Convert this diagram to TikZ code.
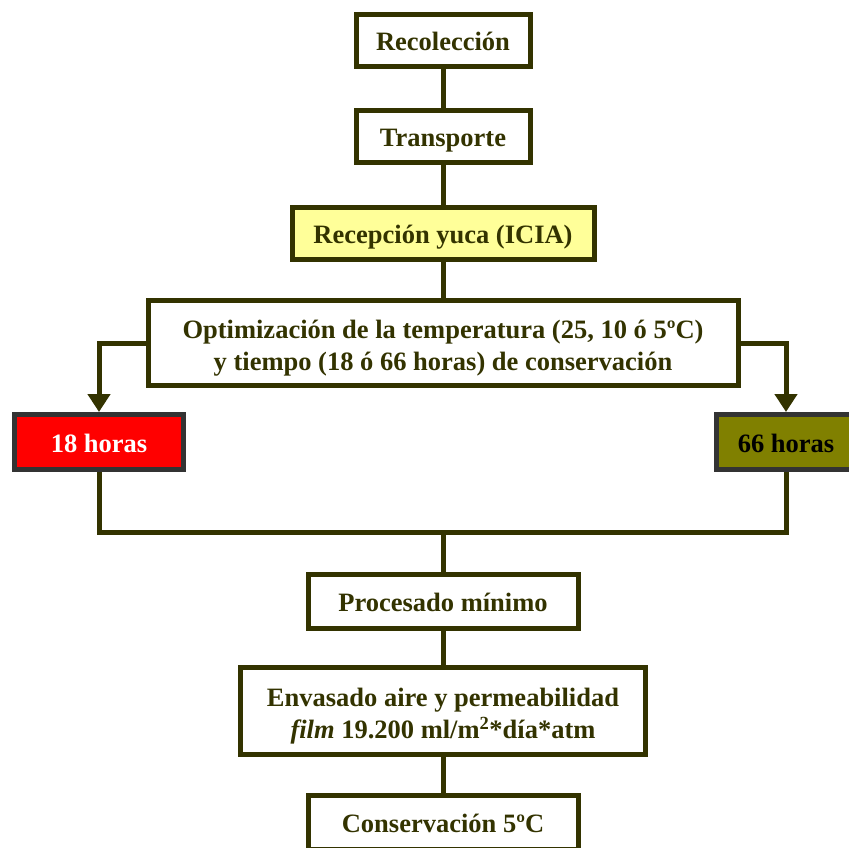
\documentclass[tikz,border=0pt]{standalone}
\usepackage{fontspec}
\setmainfont{Liberation Serif}
\usetikzlibrary{arrows.meta}
\definecolor{olivedark}{HTML}{333300}
\definecolor{boxgray}{HTML}{333333}
\definecolor{paleyellow}{HTML}{FFFF99}
\definecolor{olivefill}{HTML}{808000}
\begin{document}
\begin{tikzpicture}[x=1pt,y=-1pt,
  stage/.style={draw=olivedark, line width=5pt, fill=white, rectangle,
    inner sep=0pt, align=center, text=olivedark,
    font=\fontsize{26.5}{32}\selectfont\bfseries},
  oneline/.style={stage, text height=27pt, text depth=7pt},
  twoline/.style={stage, text height=61pt},
  branch/.style={oneline, draw=boxgray},
  link/.style={draw=olivedark, line width=5pt},
  arrowlink/.style={link, -{Triangle[width=22pt,length=18pt]}}]
\useasboundingbox (0,0) rectangle (849,847);
\clip (0,0) rectangle (849,847);

\node[oneline, minimum width=174pt, minimum height=52pt] (rec) at (443,40.5) {Recolección};
\node[oneline, minimum width=174pt, minimum height=52pt] (tra) at (443,136.5) {Transporte};
\node[oneline, fill=paleyellow, minimum width=302pt, minimum height=52pt] (recep) at (443,233.5) {Recepción yuca (ICIA)};
\node[twoline, minimum width=590pt, minimum height=85pt] (opt) at (443,343)
  {Optimización de la temperatura (25, 10 ó 5ºC)\\y tiempo (18 ó 66 horas) de conservación};
\node[branch, fill=red, text=white, minimum width=169pt, minimum height=55pt] (h18) at (99,442) {18 horas};
\node[branch, fill=olivefill, text=black, minimum width=139pt, minimum height=55pt] (h66) at (786,442) {66 horas};
\coordinate (j) at (443,532);
\node[oneline, minimum width=270pt, minimum height=54pt] (proc) at (443,601.5) {Procesado mínimo};
\node[twoline, minimum width=405pt, minimum height=87pt] (env) at (443,711)
  {Envasado aire y permeabilidad\\\textit{film} 19.200 ml/m\textsuperscript{2}*día*atm};
\node[oneline, minimum width=270pt, minimum height=54pt] (cons) at (443,822.5) {Conservación 5ºC};

\draw[link] (rec) -- (tra);
\draw[link] (tra) -- (recep);
\draw[link] (recep) -- (opt);
\draw[arrowlink] (opt.west) -| (h18.north);
\draw[arrowlink] (opt.east) -| (h66.north);
\draw[link] (h18.south) |- (j) -| (h66.south);
\draw[link] (j) -- (proc);
\draw[link] (proc) -- (env);
\draw[link] (env) -- (cons);
\end{tikzpicture}
\end{document}
